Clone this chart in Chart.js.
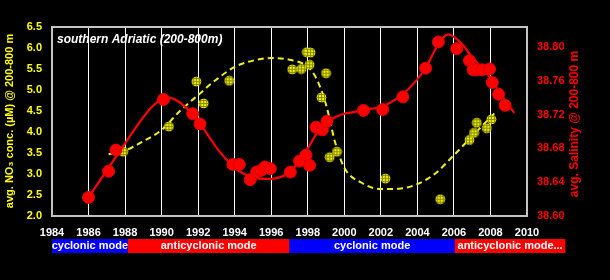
<!DOCTYPE html>
<html>
<head>
<meta charset="utf-8">
<script src="https://cdn.jsdelivr.net/npm/chart.js@4"></script>
<style>
  html, body { margin: 0; padding: 0; background: #000; }
  #wrap { width: 610px; height: 280px; }
</style>
</head>
<body>
<div id="wrap"><canvas id="chart" width="610" height="280"></canvas></div>
<script>
// salinity observations (right axis)
const salYears = [1986.0, 1987.1, 1987.5, 1990.1, 1991.7, 1992.1, 1993.9, 1994.25, 1994.85, 1995.2, 1995.45, 1995.65, 1995.95,
                  1997.05, 1997.55, 1997.9, 1998.1, 1998.45, 1998.8, 1999.05, 2001.05, 2002.1, 2003.2, 2004.45, 2005.15,
                  2006.15, 2006.85, 2007.05, 2007.25, 2007.55, 2007.95, 2008.1, 2008.45, 2008.8];
const salValues = [38.622, 38.653, 38.678, 38.738, 38.721, 38.709, 38.661, 38.661, 38.643, 38.652, 38.654, 38.658, 38.656,
                   38.652, 38.665, 38.672, 38.660, 38.705, 38.702, 38.712, 38.725, 38.726, 38.741, 38.775, 38.806,
                   38.798, 38.784, 38.773, 38.773, 38.773, 38.774, 38.758, 38.744, 38.731];
// salinity smooth fit
const salFitYears = [1986.0, 1986.5, 1987, 1987.5, 1988, 1988.5, 1989, 1989.5, 1990, 1990.4, 1990.8, 1991.2, 1991.6,
                     1992, 1992.5, 1993, 1993.5, 1994, 1994.5, 1995, 1995.5, 1996, 1996.5, 1997, 1997.5, 1998, 1998.5,
                     1999, 1999.5, 2000, 2000.5, 2001, 2001.5, 2002, 2002.5, 2003, 2003.5, 2004, 2004.5, 2005, 2005.4,
                     2005.7, 2006, 2006.5, 2007, 2007.5, 2008, 2008.5, 2009, 2009.3];
const salFitValues = [38.622, 38.638, 38.654, 38.670, 38.686, 38.702, 38.717, 38.730, 38.738, 38.740, 38.737, 38.731, 38.722,
                      38.712, 38.697, 38.681, 38.668, 38.657, 38.650, 38.646, 38.644, 38.644, 38.646, 38.652, 38.664, 38.680, 38.698,
                      38.710, 38.717, 38.721, 38.723, 38.725, 38.727, 38.729, 38.734, 38.741, 38.750, 38.762, 38.777, 38.798, 38.811,
                      38.815, 38.812, 38.802, 38.788, 38.776, 38.763, 38.746, 38.731, 38.722];

// nitrate observations (left axis)
const no3Years = [1987.9, 1990.4, 1991.9, 1992.3, 1993.7, 1997.15, 1997.65, 1997.95, 1998.15, 1998.1, 1999.0, 1998.75,
                  1999.6, 1999.2, 2002.25, 2005.25, 2006.85, 2007.1, 2007.25, 2007.8, 2008.05];
const no3Values = [3.53, 4.13, 5.20, 4.68, 5.22, 5.49, 5.50, 5.90, 5.89, 5.60, 5.40, 4.82,
                   3.53, 3.40, 2.89, 2.40, 3.81, 3.98, 4.22, 4.09, 4.30];
// nitrate smooth fit
const no3FitYears = [1987.1, 1988, 1989, 1990, 1991, 1992, 1993, 1994, 1995, 1996, 1997, 1998, 1998.5, 1999, 1999.5,
                     2000, 2001, 2002, 2003, 2004, 2005, 2006, 2007, 2008, 2008.3];
const no3FitValues = [3.47, 3.56, 3.78, 4.05, 4.50, 4.88, 5.25, 5.55, 5.70, 5.76, 5.72, 5.55, 5.25, 4.65, 3.75,
                      3.15, 2.78, 2.64, 2.65, 2.76, 3.02, 3.45, 3.90, 4.35, 4.48];

const salTicks = [38.60, 38.64, 38.68, 38.72, 38.76, 38.80];

// circulation modes shown under the x axis
const modeLabels = ['cyclonic mode', 'anticyclonic mode', 'cyclonic mode', 'anticyclonic mode...'];
const modeStart = [1984, 1988.15, 1997, 2006.05];
const modeEnd = [1988.15, 1997, 2006.05, 2012.1];
const modeColors = ['#0000ff', '#ff0000', '#0000ff', '#ff0000'];

function toPoints(xs, ys) {
    return xs.map((x, i) => ({ x: x, y: ys[i] }));
}

// hatched yellow marker
function makeHatchDot() {
    const c = document.createElement('canvas');
    c.width = 11; c.height = 11;
    const g = c.getContext('2d');
    g.beginPath();
    g.arc(5.5, 5.5, 4.8, 0, Math.PI * 2);
    g.fillStyle = '#f0f000';
    g.fill();
    g.save();
    g.clip();
    g.strokeStyle = '#8c8c00';
    g.lineWidth = 1;
    for (let p = 2; p < 11; p += 3) {
        g.beginPath(); g.moveTo(p + 0.5, 0); g.lineTo(p + 0.5, 11); g.stroke();
        g.beginPath(); g.moveTo(0, p + 0.5); g.lineTo(11, p + 0.5); g.stroke();
    }
    g.restore();
    return c;
}

const decorations = {
    id: 'decorations',
    beforeDatasetsDraw(chart) {
        const { ctx } = chart;
        ctx.save();
        ctx.fillStyle = '#fff';
        ctx.font = 'italic bold 12px "Liberation Sans", Arial, sans-serif';
        ctx.textBaseline = 'middle';
        ctx.fillText('southern Adriatic (200-800m)', 57, 40);
        ctx.restore();
    },
    afterDraw(chart) {
        const { ctx, chartArea } = chart;
        const x = chart.scales.x;
        ctx.save();
        // frame
        ctx.strokeStyle = '#c4c4c4';
        ctx.lineWidth = 2;
        ctx.strokeRect(chartArea.left, chartArea.top, chartArea.right - chartArea.left, chartArea.bottom - chartArea.top);

        // axis titles
        ctx.textAlign = 'center';
        ctx.textBaseline = 'middle';
        ctx.fillStyle = '#ffff00';
        ctx.font = 'bold 11px "Liberation Sans", Arial, sans-serif';
        ctx.translate(10, 121);
        ctx.rotate(-Math.PI / 2);
        ctx.fillText('avg. NO\u2083 conc. (\u00b5M) @ 200-800 m', 0, 0);
        ctx.setTransform(1, 0, 0, 1, 0, 0);
        ctx.fillStyle = '#ff0000';
        ctx.font = 'bold 12px "Liberation Sans", Arial, sans-serif';
        ctx.translate(575, 124);
        ctx.rotate(-Math.PI / 2);
        ctx.fillText('avg. Salinity @ 200-800 m', 0, 0);
        ctx.setTransform(1, 0, 0, 1, 0, 0);

        // mode bar
        ctx.font = 'bold 11px "Liberation Sans", Arial, sans-serif';
        for (let i = 0; i < modeLabels.length; i++) {
            const x0 = x.getPixelForValue(modeStart[i]);
            const x1 = x.getPixelForValue(modeEnd[i]);
            ctx.fillStyle = modeColors[i];
            ctx.fillRect(x0, 239, x1 - x0, 14);
            ctx.fillStyle = '#fff';
            ctx.fillText(modeLabels[i], (x0 + x1) / 2, 246);
        }
        ctx.restore();
    }
};

const ctx = document.getElementById('chart').getContext('2d');
Chart.defaults.font.family = '"Liberation Sans", Arial, sans-serif';

new Chart(ctx, {
    type: 'scatter',
    data: {
        datasets: [
            {
                data: toPoints(salYears, salValues),
                yAxisID: 'ySal',
                backgroundColor: '#ff0000',
                borderColor: '#e00000',
                borderWidth: 1,
                pointRadius: 6
            },
            {
                data: toPoints(salFitYears, salFitValues),
                yAxisID: 'ySal',
                showLine: true,
                borderColor: '#ff0000',
                borderWidth: 2.2,
                pointRadius: 0,
                cubicInterpolationMode: 'monotone'
            },
            {
                data: toPoints(no3Years, no3Values),
                yAxisID: 'yNo3',
                pointStyle: makeHatchDot(),
                pointRadius: 5
            },
            {
                data: toPoints(no3FitYears, no3FitValues),
                yAxisID: 'yNo3',
                showLine: true,
                borderColor: '#f0f020',
                borderWidth: 2,
                borderDash: [6, 4],
                pointRadius: 0,
                cubicInterpolationMode: 'monotone'
            }
        ]
    },
    options: {
        responsive: false,
        animation: false,
        events: [],
        layout: { padding: { top: 27, left: 0, right: 0, bottom: 0 } },
        plugins: { legend: { display: false }, tooltip: { enabled: false } },
        scales: {
            x: {
                type: 'linear',
                min: 1984,
                max: 2010,
                border: { display: false },
                grid: { color: '#ffffff', lineWidth: 1, drawTicks: false },
                ticks: {
                    stepSize: 2,
                    autoSkip: false,
                    maxRotation: 0,
                    padding: 10,
                    color: '#ffffff',
                    font: { size: 11, weight: 'bold' },
                    callback: v => String(v)
                },
                afterFit: s => { s.height = 64; }
            },
            yNo3: {
                position: 'left',
                min: 2,
                max: 6.5,
                border: { display: false },
                grid: { display: false, drawTicks: false },
                ticks: {
                    stepSize: 0.5,
                    padding: 10,
                    color: '#ffff00',
                    font: { size: 11, weight: 'bold' },
                    callback: v => v.toFixed(1)
                },
                afterFit: s => { s.width = 52; }
            },
            ySal: {
                position: 'right',
                min: 38.60,
                max: 38.8237,
                border: { display: false },
                grid: { display: false, drawTicks: false },
                afterBuildTicks: s => { s.ticks = salTicks.map(v => ({ value: v })); },
                ticks: {
                    padding: 10,
                    color: '#ff0000',
                    font: { size: 11, weight: 'bold' },
                    callback: v => v.toFixed(2)
                },
                afterFit: s => { s.width = 83; }
            }
        }
    },
    plugins: [decorations]
});
</script>
</body>
</html>
